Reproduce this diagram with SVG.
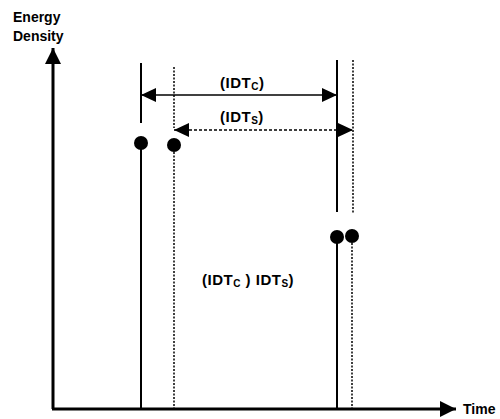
<svg xmlns="http://www.w3.org/2000/svg" width="500" height="419" viewBox="0 0 500 419">
<defs>
<style>
.t{font-family:"Liberation Sans",Arial,sans-serif;font-weight:bold;fill:#000}
.lbl{font-size:15px;letter-spacing:0.5px}
.sub{font-size:10px}
.solid{stroke:#000;stroke-width:2;fill:none}
.dot{stroke:#000;stroke-width:1.5;stroke-dasharray:2 1.5;fill:none}
.axis{stroke:#000;stroke-width:3;fill:none}
</style>
<marker id="ah" viewBox="0 0 15 14" refX="15" refY="7" markerWidth="15" markerHeight="14" markerUnits="userSpaceOnUse" orient="auto-start-reverse">
<path d="M0,0 L15,7 L0,14 Z" fill="#000"/>
</marker>
<marker id="axh" viewBox="0 0 16 16" refX="16" refY="8" markerWidth="16" markerHeight="16" markerUnits="userSpaceOnUse" orient="auto">
<path d="M0,0 L16,8 L0,16 Z" fill="#000"/>
</marker>
</defs>
<rect width="500" height="419" fill="#fff"/>
<g id="axes">
<line class="axis" x1="53" y1="409" x2="53" y2="48" marker-end="url(#axh)"/>
<line class="axis" x1="52" y1="409" x2="456" y2="409" marker-end="url(#axh)"/>
<text class="t" x="13" y="22" font-size="14">Energy</text>
<text class="t" x="13" y="41" font-size="14">Density</text>
<text class="t" x="463" y="414" font-size="14">Time</text>
</g>
<g id="connectors">
<line class="solid" x1="141" y1="63" x2="141" y2="123"/>
<line class="solid" x1="141" y1="143" x2="141" y2="409"/>
<line class="dot" x1="174" y1="67" x2="174" y2="128"/>
<line class="dot" x1="174" y1="145" x2="174" y2="409"/>
<line class="solid" x1="337" y1="60" x2="337" y2="212"/>
<line class="solid" x1="337" y1="237" x2="337" y2="409"/>
<line class="dot" x1="353" y1="60" x2="353" y2="213"/>
<line class="dot" x1="352" y1="236" x2="352" y2="409"/>
<line stroke="#000" stroke-width="1.5" x1="141" y1="95" x2="337" y2="95" marker-start="url(#ah)" marker-end="url(#ah)"/>
<line stroke="#000" stroke-width="1.5" stroke-dasharray="3 2" x1="174" y1="130" x2="353" y2="130" marker-start="url(#ah)" marker-end="url(#ah)"/>
</g>
<g id="point-c1"><circle cx="141" cy="143" r="7" fill="#000"/></g>
<g id="point-s1"><circle cx="174" cy="145" r="7" fill="#000"/></g>
<g id="point-c2"><circle cx="337" cy="237" r="7" fill="#000"/></g>
<g id="point-s2"><circle cx="352" cy="236" r="7" fill="#000"/></g>
<g id="labels">
<text class="t lbl" x="220" y="88">(IDT<tspan class="sub" dy="2">C</tspan><tspan dy="-2">)</tspan></text>
<text class="t lbl" x="220" y="122">(IDT<tspan class="sub" dy="2">S</tspan><tspan dy="-2">)</tspan></text>
<text class="t lbl" x="202" y="285">(IDT<tspan class="sub" dy="2">C</tspan><tspan dy="-2"> ) IDT</tspan><tspan class="sub" dy="2">S</tspan><tspan dy="-2">)</tspan></text>
</g>
</svg>
